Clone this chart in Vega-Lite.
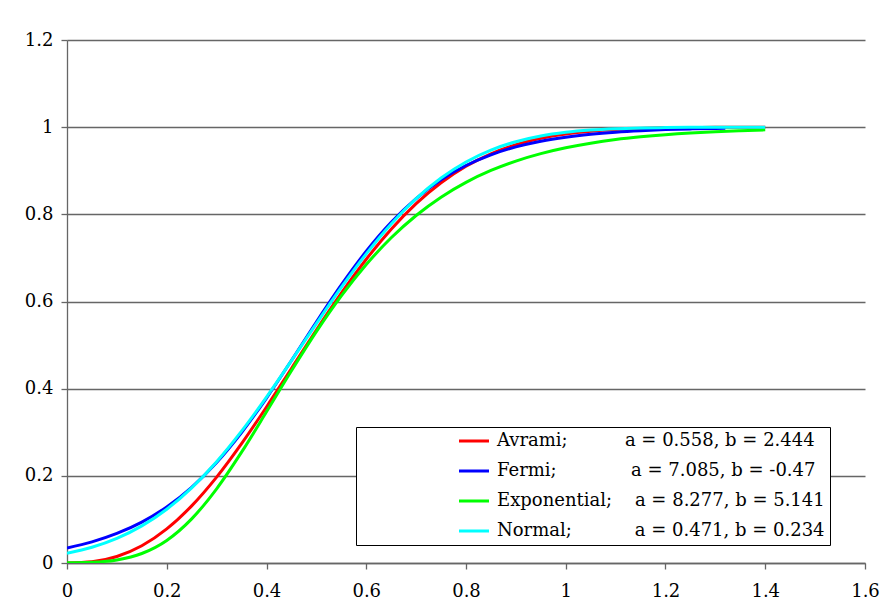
{
"$schema": "https://vega.github.io/schema/vega-lite/v6.json",
"width": 798, "height": 523,
"autosize": {"type": "none"},
"padding": {"left": 67, "top": 40, "right": 19, "bottom": 50},
"background": "white",
"config": {"view": {"stroke": null}},
"data": {"values": [
{"model":"Avrami","x":0,"y":0},{"model":"Avrami","x":0.05,"y":0.0027},{"model":"Avrami","x":0.1,"y":0.0149},{"model":"Avrami","x":0.15,"y":0.0395},{"model":"Avrami","x":0.2,"y":0.0782},{"model":"Avrami","x":0.25,"y":0.1311},{"model":"Avrami","x":0.3,"y":0.197},{"model":"Avrami","x":0.35,"y":0.2738},{"model":"Avrami","x":0.4,"y":0.358},{"model":"Avrami","x":0.45,"y":0.4463},{"model":"Avrami","x":0.5,"y":0.5346},{"model":"Avrami","x":0.55,"y":0.6191},{"model":"Avrami","x":0.6,"y":0.697},{"model":"Avrami","x":0.65,"y":0.7659},{"model":"Avrami","x":0.7,"y":0.8246},{"model":"Avrami","x":0.75,"y":0.8725},{"model":"Avrami","x":0.8,"y":0.9104},{"model":"Avrami","x":0.85,"y":0.939},{"model":"Avrami","x":0.9,"y":0.9599},{"model":"Avrami","x":0.95,"y":0.9746},{"model":"Avrami","x":1,"y":0.9844},{"model":"Avrami","x":1.05,"y":0.9908},{"model":"Avrami","x":1.1,"y":0.9948},{"model":"Avrami","x":1.15,"y":0.9971},{"model":"Avrami","x":1.2,"y":0.9985},{"model":"Avrami","x":1.25,"y":0.9992},{"model":"Avrami","x":1.3,"y":0.9996},{"model":"Avrami","x":1.35,"y":0.9998},{"model":"Avrami","x":1.4,"y":0.9999},
{"model":"Fermi","x":0,"y":0.0346},{"model":"Fermi","x":0.05,"y":0.0485},{"model":"Fermi","x":0.1,"y":0.0678},{"model":"Fermi","x":0.15,"y":0.0939},{"model":"Fermi","x":0.2,"y":0.1287},{"model":"Fermi","x":0.25,"y":0.1738},{"model":"Fermi","x":0.3,"y":0.2307},{"model":"Fermi","x":0.35,"y":0.2994},{"model":"Fermi","x":0.4,"y":0.3785},{"model":"Fermi","x":0.45,"y":0.4646},{"model":"Fermi","x":0.5,"y":0.553},{"model":"Fermi","x":0.55,"y":0.638},{"model":"Fermi","x":0.6,"y":0.7153},{"model":"Fermi","x":0.65,"y":0.7816},{"model":"Fermi","x":0.7,"y":0.8361},{"model":"Fermi","x":0.75,"y":0.8791},{"model":"Fermi","x":0.8,"y":0.912},{"model":"Fermi","x":0.85,"y":0.9366},{"model":"Fermi","x":0.9,"y":0.9547},{"model":"Fermi","x":0.95,"y":0.9678},{"model":"Fermi","x":1,"y":0.9771},{"model":"Fermi","x":1.05,"y":0.9838},{"model":"Fermi","x":1.1,"y":0.9886},{"model":"Fermi","x":1.15,"y":0.992},{"model":"Fermi","x":1.2,"y":0.9944},{"model":"Fermi","x":1.25,"y":0.996},{"model":"Fermi","x":1.3,"y":0.9972},{"model":"Fermi","x":1.32,"y":0.9976},
{"model":"Exponential","x":0,"y":0.0003},{"model":"Exponential","x":0.05,"y":0.0017},{"model":"Exponential","x":0.1,"y":0.0071},{"model":"Exponential","x":0.15,"y":0.0218},{"model":"Exponential","x":0.2,"y":0.0518},{"model":"Exponential","x":0.25,"y":0.1013},{"model":"Exponential","x":0.3,"y":0.1703},{"model":"Exponential","x":0.35,"y":0.2544},{"model":"Exponential","x":0.4,"y":0.3469},{"model":"Exponential","x":0.45,"y":0.441},{"model":"Exponential","x":0.5,"y":0.5309},{"model":"Exponential","x":0.55,"y":0.6128},{"model":"Exponential","x":0.6,"y":0.6848},{"model":"Exponential","x":0.65,"y":0.7462},{"model":"Exponential","x":0.7,"y":0.7974},{"model":"Exponential","x":0.75,"y":0.8394},{"model":"Exponential","x":0.8,"y":0.8734},{"model":"Exponential","x":0.85,"y":0.9006},{"model":"Exponential","x":0.9,"y":0.9222},{"model":"Exponential","x":0.95,"y":0.9393},{"model":"Exponential","x":1,"y":0.9527},{"model":"Exponential","x":1.05,"y":0.9632},{"model":"Exponential","x":1.1,"y":0.9715},{"model":"Exponential","x":1.15,"y":0.9778},{"model":"Exponential","x":1.2,"y":0.9828},{"model":"Exponential","x":1.25,"y":0.9867},{"model":"Exponential","x":1.3,"y":0.9897},{"model":"Exponential","x":1.35,"y":0.992},{"model":"Exponential","x":1.4,"y":0.9938},
{"model":"Normal","x":0,"y":0.0221},{"model":"Normal","x":0.05,"y":0.036},{"model":"Normal","x":0.1,"y":0.0564},{"model":"Normal","x":0.15,"y":0.0851},{"model":"Normal","x":0.2,"y":0.1234},{"model":"Normal","x":0.25,"y":0.1725},{"model":"Normal","x":0.3,"y":0.2324},{"model":"Normal","x":0.35,"y":0.3025},{"model":"Normal","x":0.4,"y":0.3808},{"model":"Normal","x":0.45,"y":0.4642},{"model":"Normal","x":0.5,"y":0.5493},{"model":"Normal","x":0.55,"y":0.6322},{"model":"Normal","x":0.6,"y":0.7093},{"model":"Normal","x":0.65,"y":0.7779},{"model":"Normal","x":0.7,"y":0.8361},{"model":"Normal","x":0.75,"y":0.8834},{"model":"Normal","x":0.8,"y":0.9201},{"model":"Normal","x":0.85,"y":0.9474},{"model":"Normal","x":0.9,"y":0.9666},{"model":"Normal","x":0.95,"y":0.9797},{"model":"Normal","x":1,"y":0.9881},{"model":"Normal","x":1.05,"y":0.9933},{"model":"Normal","x":1.1,"y":0.9964},{"model":"Normal","x":1.15,"y":0.9981},{"model":"Normal","x":1.2,"y":0.9991},{"model":"Normal","x":1.25,"y":0.9996},{"model":"Normal","x":1.3,"y":0.9998},{"model":"Normal","x":1.35,"y":0.9999},{"model":"Normal","x":1.4,"y":1.0}
]},
"mark": {"type": "line", "strokeWidth": 3, "interpolate": "monotone", "clip": true},
"encoding": {
  "x": {"field": "x", "type": "quantitative",
        "scale": {"domain": [0, 1.6], "nice": false, "zero": false},
        "axis": {"title": null, "grid": false, "values": [0,0.2,0.4,0.6,0.8,1,1.2,1.4,1.6], "format": "~g",
                 "labelFont": "DejaVu Serif", "labelFontSize": 18, "labelColor": "black",
                 "domainColor": "#666666", "domainWidth": 1.3, "tickColor": "#666666", "tickWidth": 1.3, "tickSize": 6,
                 "labelPadding": 13, "labelFlush": false, "labelOverlap": false}},
  "y": {"field": "y", "type": "quantitative",
        "scale": {"domain": [0, 1.2], "nice": false, "zero": false},
        "axis": {"title": null, "grid": true, "gridColor": "#666666", "gridWidth": 1.3, "gridOpacity": 1,
                 "values": [0,0.2,0.4,0.6,0.8,1,1.2], "format": "~g",
                 "labelFont": "DejaVu Serif", "labelFontSize": 18, "labelColor": "black",
                 "domainColor": "#666666", "domainWidth": 1.3, "tickColor": "#666666", "tickWidth": 1.3, "tickSize": 6,
                 "labelPadding": 8, "labelFlush": false, "labelOverlap": false}},
  "color": {"field": "model", "type": "nominal",
            "scale": {"domain": ["Avrami", "Fermi", "Exponential", "Normal"], "range": ["#ff0000", "#0000ff", "#00ff00", "#00ffff"]},
            "legend": {"orient": "none", "legendX": 289, "legendY": 387,
                       "strokeColor": "black", "fillColor": "white", "padding": 5,
                       "title": "\u00a0", "titleOrient": "left", "titleFontSize": 10, "titlePadding": 104,
                       "symbolType": "M-2,0H2", "symbolSize": 225, "symbolStrokeWidth": 3,
                       "labelFont": "DejaVu Serif", "labelFontSize": 18, "labelColor": "black",
                       "labelOffset": 14, "rowPadding": 12, "labelLimit": 0,
                       "labelExpr": "datum.label == 'Avrami' ? 'Avrami;\u00a0\u00a0\u00a0\u00a0\u00a0\u00a0\u00a0\u00a0\u00a0\u00a0a = 0.558, b = 2.444' : datum.label == 'Fermi' ? 'Fermi;\u00a0\u00a0\u00a0\u00a0\u00a0\u00a0\u00a0\u00a0\u00a0\u00a0\u00a0\u00a0\u00a0a = 7.085, b = -0.47' : datum.label == 'Exponential' ? 'Exponential;\u00a0\u00a0\u00a0\u00a0a = 8.277, b = 5.141' : 'Normal;\u00a0\u00a0\u00a0\u00a0\u00a0\u00a0\u00a0\u00a0\u00a0\u00a0\u00a0a = 0.471, b = 0.234\u00a0\u00a0'"}}
}
}
